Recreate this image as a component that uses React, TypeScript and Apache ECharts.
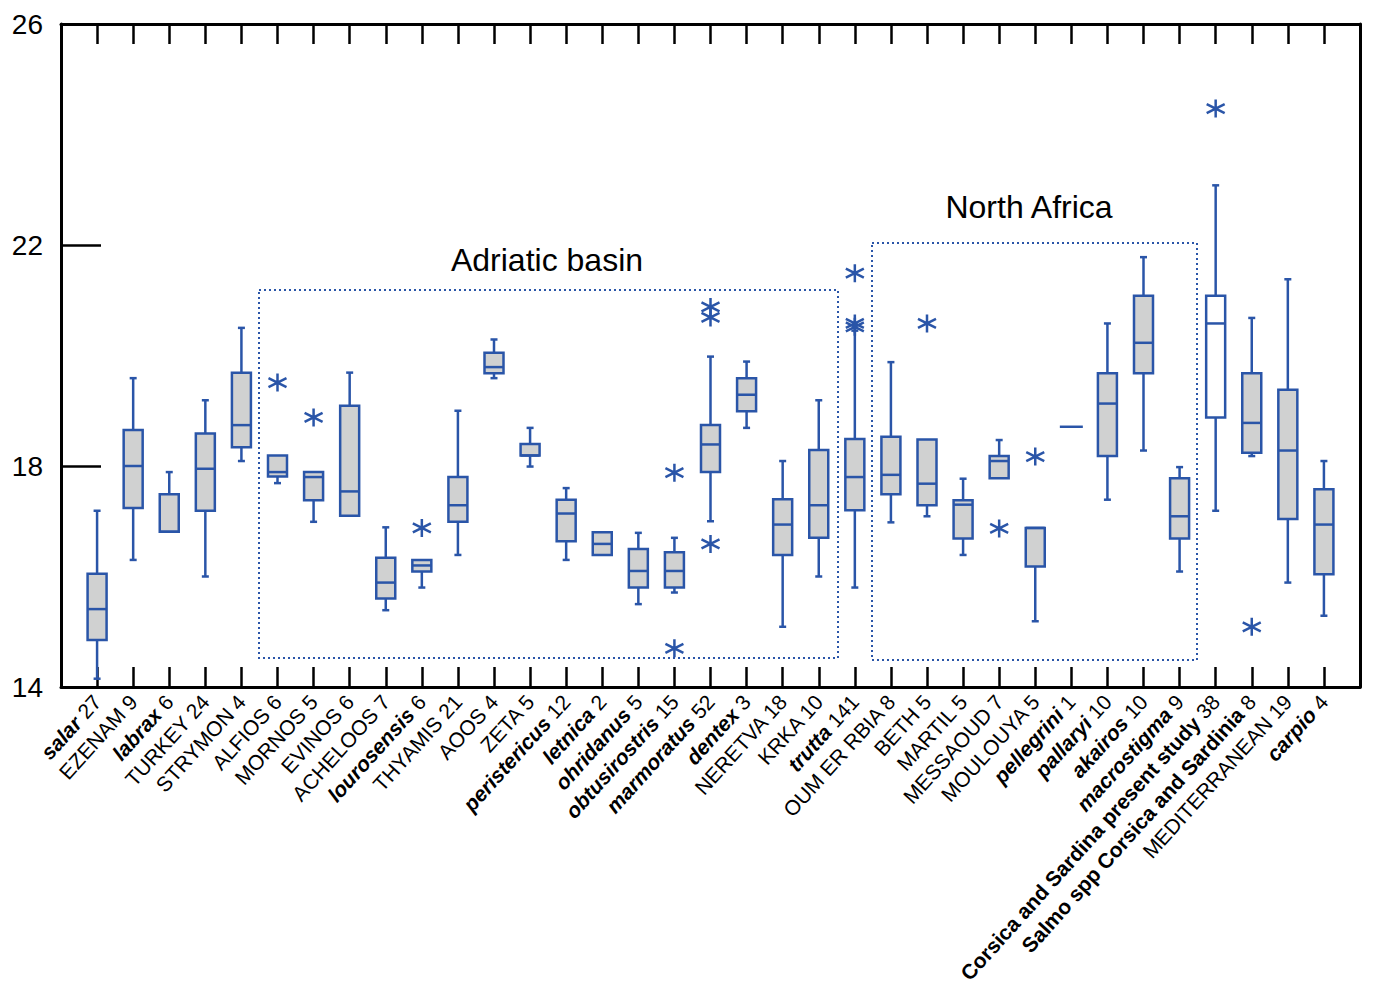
import React, { useEffect, useRef } from "react";
import * as echarts from "echarts";

const names = [
  "salar", "EZENAM", "labrax", "TURKEY", "STRYMON", "ALFIOS", "MORNOS", "EVINOS", "ACHELOOS",
  "lourosensis", "THYAMIS", "AOOS", "ZETA", "peristericus", "letnica", "ohridanus", "obtusirostris",
  "marmoratus", "dentex", "NERETVA", "KRKA", "trutta", "OUM ER RBIA", "BETH", "MARTIL", "MESSAOUD",
  "MOULOUYA", "pellegrini", "pallaryi", "akairos", "macrostigma",
  "Corsica and Sardina present study", "Salmo spp Corsica and Sardinia", "MEDITERRANEAN", "carpio",
];
const counts = [27, 9, 6, 24, 4, 6, 5, 6, 7, 6, 21, 4, 5, 12, 2, 5, 15, 52, 3, 18, 10, 141, 8, 5, 5, 7, 5, 1, 10, 10, 9, 38, 8, 19, 4];
// label style: bi = bold italic, b = bold, n = normal
const labelKinds = [
  "bi", "n", "bi", "n", "n", "n", "n", "n", "n", "bi", "n", "n", "n", "bi", "bi", "bi", "bi",
  "bi", "bi", "n", "n", "bi", "n", "n", "n", "n", "n", "bi", "bi", "bi", "bi", "b", "b", "n", "bi",
];

// [min, Q1, median, Q3, max]
const boxStats = [
  [14.15, 14.85, 15.41, 16.05, 17.19],
  [16.3, 17.24, 18.0, 18.65, 19.59],
  [16.81, 16.81, 16.81, 17.49, 17.89],
  [16.0, 17.19, 17.95, 18.59, 19.19],
  [18.09, 18.34, 18.74, 19.69, 20.5],
  [17.69, 17.81, 17.89, 18.19, 18.19],
  [16.99, 17.38, 17.8, 17.89, 17.89],
  [17.1, 17.1, 17.54, 19.09, 19.69],
  [15.39, 15.6, 15.89, 16.34, 16.89],
  [15.8, 16.09, 16.2, 16.3, 16.3],
  [16.39, 16.99, 17.29, 17.8, 19.0],
  [19.59, 19.68, 19.79, 20.05, 20.29],
  [17.99, 18.19, 18.19, 18.4, 18.69],
  [16.3, 16.64, 17.14, 17.39, 17.6],
  [16.39, 16.39, 16.59, 16.8, 16.8],
  [15.5, 15.8, 16.1, 16.5, 16.79],
  [15.71, 15.8, 16.1, 16.44, 16.7],
  [17.0, 17.89, 18.39, 18.74, 19.98],
  [18.69, 18.99, 19.29, 19.59, 19.89],
  [15.09, 16.39, 16.94, 17.4, 18.09],
  [16.0, 16.7, 17.29, 18.29, 19.19],
  [15.8, 17.2, 17.8, 18.49, 20.45],
  [16.98, 17.49, 17.84, 18.53, 19.88],
  [17.09, 17.29, 17.68, 18.48, 18.48],
  [16.39, 16.69, 17.3, 17.38, 17.77],
  [17.78, 17.78, 18.09, 18.18, 18.47],
  [15.19, 16.18, 16.88, 16.88, 16.88],
  [18.71, 18.71, 18.71, 18.71, 18.71],
  [17.39, 18.18, 19.13, 19.68, 20.58],
  [18.28, 19.68, 20.23, 21.08, 21.78],
  [16.09, 16.69, 17.09, 17.78, 17.98],
  [17.19, 18.88, 20.58, 21.08, 23.08],
  [18.18, 18.24, 18.78, 19.68, 20.68],
  [15.89, 17.04, 18.28, 19.38, 21.38],
  [15.29, 16.04, 16.94, 17.58, 18.09],
];

const outlierCats = [
  "ALFIOS", "MORNOS", "lourosensis", "obtusirostris", "obtusirostris", "marmoratus", "marmoratus",
  "marmoratus", "trutta", "trutta", "trutta", "BETH", "MESSAOUD", "MOULOUYA",
  "Corsica and Sardina present study", "Salmo spp Corsica and Sardinia",
];
const outlierValues = [19.51, 18.88, 16.88, 17.88, 14.7, 20.88, 20.69, 16.59, 21.49, 20.58, 20.52, 20.58, 16.87, 18.17, 24.47, 15.09];

const yTicks = [14, 18, 22, 26];
const regionTitles = ["Adriatic basin", "North Africa"];

const BLUE = "#2a55a8";
const GRAY = "#d0d1d1";
const FONT = "'Liberation Sans', Arial, sans-serif";
const LABEL_SIZE = 21;
const whiteBoxName = "Corsica and Sardina present study";

export default function App() {
  const ref = useRef<HTMLDivElement>(null);
  useEffect(() => {
    if (!ref.current) return;
    const chart = echarts.init(ref.current, null, { renderer: "svg" });
    const cats = [
      "",
      ...names.map((n, i) =>
        labelKinds[i] === "n" ? `${n} ${counts[i]}` : `{${labelKinds[i]}|${n}} ${counts[i]}`
      ),
      "",
    ];
    const boxData = boxStats.map((s, i) => [i + 1, ...s]);
    const outData = outlierCats.map((c, k) => [names.indexOf(c) + 1, outlierValues[k]]);
    const tickShow = (idx: number) => idx >= 1 && idx <= names.length;

    const option: any = {
      animation: false,
      grid: { left: 61, right: 15, top: 24, bottom: 307, containLabel: false },
      xAxis: [
        {
          type: "category",
          data: cats,
          boundaryGap: false,
          position: "bottom",
          axisLine: { show: true, lineStyle: { color: "#000", width: 3 } },
          axisTick: { show: true, inside: true, length: 20, interval: tickShow, lineStyle: { color: "#000", width: 2.5 } },
          axisLabel: {
            show: true,
            interval: 0,
            rotate: 48,
            margin: 11,
            fontSize: LABEL_SIZE,
            fontFamily: FONT,
            color: "#000",
            rich: {
              bi: { fontWeight: "bold", fontStyle: "italic", fontSize: LABEL_SIZE, fontFamily: FONT, color: "#000" },
              b: { fontWeight: "bold", fontSize: LABEL_SIZE, fontFamily: FONT, color: "#000" },
            },
          },
          splitLine: { show: false },
        },
        {
          type: "category",
          data: cats,
          boundaryGap: false,
          position: "top",
          axisLine: { show: true, lineStyle: { color: "#000", width: 3 } },
          axisTick: { show: true, inside: true, length: 20, interval: tickShow, lineStyle: { color: "#000", width: 2.5 } },
          axisLabel: { show: false },
          splitLine: { show: false },
        },
      ],
      yAxis: [
        {
          type: "value",
          min: yTicks[0],
          max: yTicks[yTicks.length - 1],
          interval: yTicks[1] - yTicks[0],
          position: "left",
          axisLine: { show: true, lineStyle: { color: "#000", width: 3 } },
          axisTick: { show: true, inside: true, length: 40, lineStyle: { color: "#000", width: 2.5 } },
          axisLabel: { fontSize: 28, fontFamily: FONT, color: "#000", margin: 18 },
          splitLine: { show: false },
        },
        {
          type: "value",
          min: yTicks[0],
          max: yTicks[yTicks.length - 1],
          interval: yTicks[1] - yTicks[0],
          position: "right",
          axisLine: { show: true, lineStyle: { color: "#000", width: 3 } },
          axisTick: { show: false },
          axisLabel: { show: false },
          splitLine: { show: false },
        },
      ],
      graphic: [
        {
          type: "rect",
          shape: { x: 259, y: 290, width: 579, height: 368 },
          style: { fill: "none", stroke: BLUE, lineWidth: 2, lineDash: [2, 3] },
          z: 1,
        },
        {
          type: "rect",
          shape: { x: 872, y: 243, width: 325, height: 417 },
          style: { fill: "none", stroke: BLUE, lineWidth: 2, lineDash: [2, 3] },
          z: 1,
        },
        {
          type: "text",
          x: 547,
          y: 260,
          style: { text: regionTitles[0], fontSize: 32, fontFamily: FONT, fill: "#000", align: "center", verticalAlign: "middle" },
        },
        {
          type: "text",
          x: 1029,
          y: 207,
          style: { text: regionTitles[1], fontSize: 32, fontFamily: FONT, fill: "#000", align: "center", verticalAlign: "middle" },
        },
      ],
      series: [
        {
          type: "custom",
          xAxisIndex: 0,
          yAxisIndex: 0,
          data: boxData,
          encode: { x: 0, y: [1, 2, 3, 4, 5] },
          renderItem: (params: any, api: any) => {
            const idx = api.value(0);
            const mn = api.value(1), q1 = api.value(2), md = api.value(3), q3 = api.value(4), mx = api.value(5);
            const x = api.coord([idx, md])[0];
            const y = (v: number) => api.coord([idx, v])[1];
            const hw = 9.5, cap = 3.5, lw = 2.5;
            const name = names[idx - 1];
            const ls = { stroke: BLUE, lineWidth: lw };
            const children: any[] = [];
            if (mx > q3) {
              children.push({ type: "line", shape: { x1: x, y1: y(mx), x2: x, y2: y(q3) }, style: ls });
              children.push({ type: "line", shape: { x1: x - cap, y1: y(mx), x2: x + cap, y2: y(mx) }, style: ls });
            }
            if (mn < q1) {
              children.push({ type: "line", shape: { x1: x, y1: y(mn), x2: x, y2: y(q1) }, style: ls });
              children.push({ type: "line", shape: { x1: x - cap, y1: y(mn), x2: x + cap, y2: y(mn) }, style: ls });
            }
            if (q3 > q1) {
              children.push({
                type: "rect",
                shape: { x: x - hw, y: y(q3), width: hw * 2, height: y(q1) - y(q3) },
                style: { fill: name === whiteBoxName ? "#fff" : GRAY, stroke: BLUE, lineWidth: lw },
              });
            }
            const mhw = q3 > q1 ? hw : hw + 2;
            children.push({ type: "line", shape: { x1: x - mhw, y1: y(md), x2: x + mhw, y2: y(md) }, style: ls });
            return { type: "group", children };
          },
          z: 3,
        },
        {
          type: "scatter",
          xAxisIndex: 0,
          yAxisIndex: 0,
          data: outData,
          symbol: "path://M10 0 L10 20 M1.34 5 L18.66 15 M1.34 15 L18.66 5",
          symbolSize: [18, 18],
          itemStyle: { color: BLUE, borderColor: BLUE, borderWidth: 2.5, opacity: 1 },
          emphasis: { disabled: true },
          z: 4,
        },
      ],
    };
    chart.setOption(option);
    return () => chart.dispose();
  }, []);
  return (
    <div
      ref={ref}
      style={{ position: "absolute", left: 0, top: 0, width: 1375, height: 994, background: "#fff" }}
    />
  );
}
